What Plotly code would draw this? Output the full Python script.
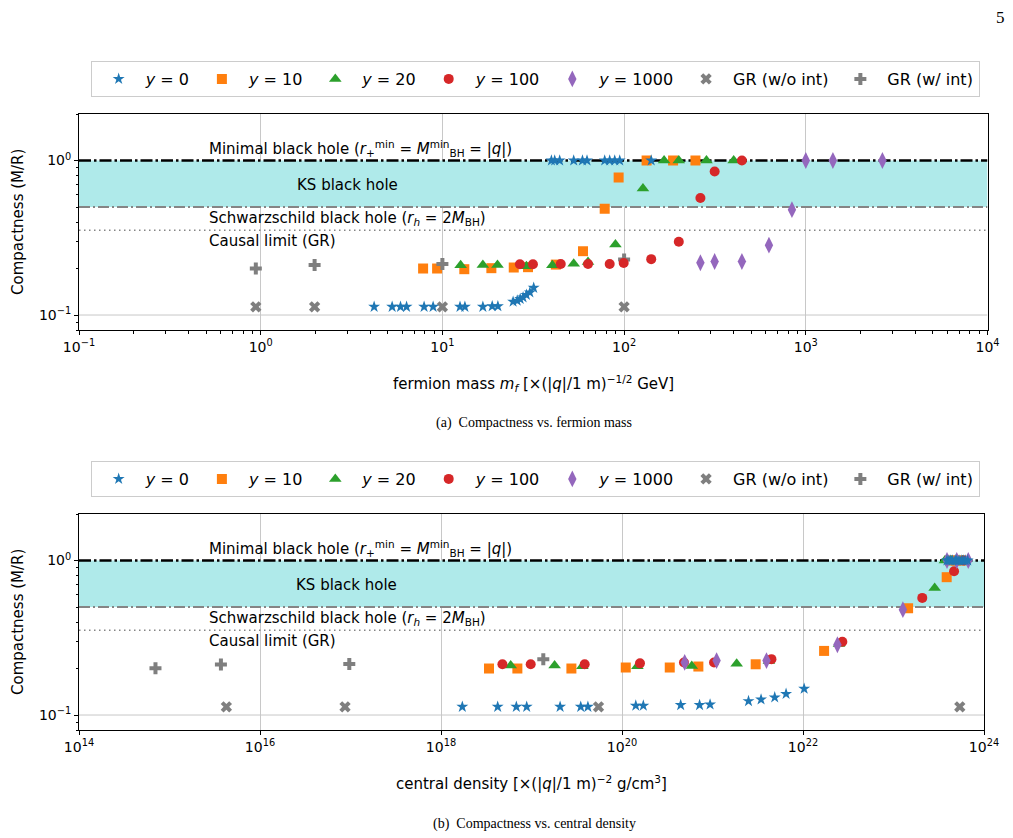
import math
import plotly.graph_objects as go

# ---------------- data: panel (a) compactness vs fermion mass ----------------
mass_y0 = [4.21, 5.29, 5.88, 6.35, 7.93, 8.89, 12.5, 13.3, 16.7, 18.8, 20.2,
           24.5, 25.8, 26.8, 27.8, 29.0, 30.3, 31.8,
           39.8, 41.5, 44.2, 52.8, 59.0, 62.5, 78.2, 83.3, 88.8, 94.6, 141]
compm_y0 = [0.113, 0.113, 0.113, 0.113, 0.113, 0.113, 0.113, 0.113, 0.113, 0.114, 0.114,
            0.122, 0.124, 0.127, 0.130, 0.135, 0.140, 0.150,
            1.0, 1.0, 1.0, 1.0, 1.0, 1.0, 1.0, 1.0, 1.0, 1.0, 1.0]

mass_y10 = [7.83, 9.35, 13.2, 18.6, 24.7, 29.6, 42.1, 59.4, 78.2, 93.3, 133, 186, 247]
compm_y10 = [0.200, 0.200, 0.198, 0.201, 0.203, 0.204, 0.212, 0.259, 0.488, 0.777, 1.0, 1.0, 1.0]

mass_y20 = [12.6, 16.7, 20.1, 29.0, 40.3, 52.8, 63.3, 89.6, 127, 166, 200, 284, 401]
compm_y20 = [0.210, 0.211, 0.211, 0.207, 0.210, 0.215, 0.220, 0.286, 0.660, 1.0, 1.0, 1.0, 1.0]

mass_y100 = [26.7, 31.5, 44.8, 63.3, 83.3, 99.5, 141, 200, 263, 315, 445]
compm_y100 = [0.213, 0.213, 0.214, 0.214, 0.214, 0.217, 0.230, 0.298, 0.572, 0.850, 1.0]

mass_y1000 = [263, 315, 445, 627, 839, 1000, 1410, 2640]
compm_y1000 = [0.218, 0.222, 0.222, 0.283, 0.481, 1.0, 1.0, 1.0]

mass_gr_noint = [0.94, 1.98, 10.0, 100.0]
compm_gr_noint = [0.113, 0.113, 0.113, 0.113]

mass_gr_int = [0.94, 1.98, 10.0, 100.0]
compm_gr_int = [0.200, 0.211, 0.214, 0.229]

# ---------------- data: panel (b) compactness vs central density ----------------
dens_y0 = [1.72e18, 4.23e18, 6.8e18, 8.85e18, 2.07e19, 3.5e19, 4.2e19, 1.42e20, 1.72e20,
           4.45e20, 7.2e20, 9.4e20, 2.5e21, 3.44e21, 4.87e21, 6.5e21, 1.03e22,
           3.9e23, 4.1e23, 4.3e23, 4.5e23, 4.8e23, 5.0e23, 5.3e23, 5.6e23, 5.9e23, 6.2e23, 6.6e23]
compd_y0 = [0.113, 0.113, 0.113, 0.113, 0.113, 0.113, 0.113, 0.115, 0.115,
            0.116, 0.116, 0.117, 0.123, 0.126, 0.130, 0.137, 0.148,
            1.0, 1.0, 1.0, 1.0, 1.0, 1.0, 1.0, 1.0, 1.0, 1.0, 1.0]

dens_y10 = [3.39e18, 6.98e18, 2.76e19, 1.1e20, 3.37e20, 6.98e20, 3.0e21, 1.71e22,
            1.45e23, 3.87e23, 4.2e23, 4.9e23, 5.6e23]
compd_y10 = [0.200, 0.200, 0.200, 0.203, 0.203, 0.206, 0.213, 0.260, 0.491, 0.780, 1.0, 1.0, 1.0]

dens_y20 = [5.89e18, 1.8e19, 3.65e19, 1.48e20, 5.9e20, 1.85e21, 4.2e21, 2.5e22,
            2.85e23, 3.7e23, 4.3e23, 5.0e23, 5.8e23]
compd_y20 = [0.209, 0.209, 0.207, 0.207, 0.208, 0.215, 0.224, 0.288, 0.665, 1.0, 1.0, 1.0, 1.0]

dens_y100 = [4.77e18, 9.8e18, 3.87e19, 1.58e20, 4.84e20, 1.04e21, 4.48e21, 2.72e22,
             2.08e23, 4.67e23, 5.96e23]
compd_y100 = [0.213, 0.213, 0.213, 0.216, 0.219, 0.219, 0.230, 0.298, 0.573, 0.853, 1.0]

dens_y1000 = [4.93e20, 1.11e21, 3.95e21, 2.4e22, 1.27e23, 3.9e23, 5.0e23, 6.7e23]
compd_y1000 = [0.219, 0.225, 0.225, 0.285, 0.481, 1.0, 1.0, 1.0]

dens_gr_noint = [4.25e15, 8.7e16, 5.5e19, 5.4e23]
compd_gr_noint = [0.113, 0.113, 0.113, 0.113]

dens_gr_int = [7.0e14, 3.7e15, 9.7e16, 1.35e19]
compd_gr_int = [0.201, 0.212, 0.214, 0.230]

# reference levels
C_MINIMAL = 1.0
C_SCHW = 0.5
C_CAUSAL = 0.354
C_GRID = 0.1

# axis ranges and tick labels
mass_range = [0.1, 1e4]
dens_range = [1e14, 1e24]
comp_range = [0.08, 2.0]
mass_ticks = [0.1, 1, 10, 100, 1000, 10000]
mass_ticktext = ["10<sup>−1</sup>", "10<sup>0</sup>", "10<sup>1</sup>", "10<sup>2</sup>",
                 "10<sup>3</sup>", "10<sup>4</sup>"]
dens_ticks = [1e14, 1e16, 1e18, 1e20, 1e22, 1e24]
dens_ticktext = ["10<sup>14</sup>", "10<sup>16</sup>", "10<sup>18</sup>", "10<sup>20</sup>",
                 "10<sup>22</sup>", "10<sup>24</sup>"]
comp_ticks = [0.1, 1]
comp_ticktext = ["10<sup>−1</sup>", "10<sup>0</sup>"]

# ---------------- styling ----------------
W, H = 1013, 838
SANS = "DejaVu Sans"
SERIF = "Liberation Serif, Times New Roman, serif"

fig = go.Figure()

# reference band and lines first (below the markers)
for xa, ya, xr in (("x", "y", mass_range), ("x2", "y2", dens_range)):
    fig.add_trace(go.Scatter(x=[xr[0], xr[1], xr[1], xr[0]],
                             y=[C_SCHW, C_SCHW, C_MINIMAL, C_MINIMAL],
                             mode="lines", fill="toself", fillcolor="#afeaea",
                             line=dict(width=0), hoverinfo="skip", showlegend=False,
                             xaxis=xa, yaxis=ya))
    for lvl, col, wd, dash in ((C_GRID, "#c8c8c8", 1, "solid"),
                               (C_SCHW, "#858585", 2, "11px,3px,2px,3px"),
                               (C_CAUSAL, "#858585", 1.5, "1.5px,3.5px"),
                               (C_MINIMAL, "black", 2.5, "12px,3px,2.5px,3px")):
        fig.add_trace(go.Scatter(x=xr, y=[lvl, lvl], mode="lines",
                                 line=dict(color=col, width=wd, dash=dash),
                                 hoverinfo="skip", showlegend=False, xaxis=xa, yaxis=ya))

# empty helper traces so the minor-tick companion axes get drawn
for xa, ya in (("x3", "y"), ("x", "y3"), ("x2", "y4")):
    fig.add_trace(go.Scatter(x=[], y=[], mode="markers", showlegend=False,
                             hoverinfo="skip", xaxis=xa, yaxis=ya))

series = [
    ("y10", "<i>y</i> = 10", "#ff7f0e", "square", 10, 2),
    ("grno", "GR (w/o int)", "#7f7f7f", "x", 10, 6),
    ("grw", "GR (w/ int)", "#7f7f7f", "cross", 10, 7),
    ("y20", "<i>y</i> = 20", "#2ca02c", "triangle-up", 11, 3),
    ("y100", "<i>y</i> = 100", "#d62728", "circle", 10, 4),
    ("y1000", "<i>y</i> = 1000", "#9467bd", "diamond-tall", 12, 5),
    ("y0", "<i>y</i> = 0", "#1f77b4", "star", 9, 1),
]
top_data = {"y0": (mass_y0, compm_y0), "y10": (mass_y10, compm_y10),
            "y20": (mass_y20, compm_y20), "y100": (mass_y100, compm_y100),
            "y1000": (mass_y1000, compm_y1000), "grno": (mass_gr_noint, compm_gr_noint),
            "grw": (mass_gr_int, compm_gr_int)}
bot_data = {"y0": (dens_y0, compd_y0), "y10": (dens_y10, compd_y10),
            "y20": (dens_y20, compd_y20), "y100": (dens_y100, compd_y100),
            "y1000": (dens_y1000, compd_y1000), "grno": (dens_gr_noint, compd_gr_noint),
            "grw": (dens_gr_int, compd_gr_int)}

for key, label, color, symbol, size, rank in series:
    x, y = top_data[key]
    fig.add_trace(go.Scatter(x=x, y=y, mode="markers", name=label,
                             marker=dict(color=color, symbol=symbol, size=size, line=dict(width=0)),
                             xaxis="x", yaxis="y", legend="legend", legendrank=rank))
    x, y = bot_data[key]
    fig.add_trace(go.Scatter(x=x, y=y, mode="markers", name=label,
                             marker=dict(color=color, symbol=symbol, size=size, line=dict(width=0)),
                             xaxis="x2", yaxis="y2", legend="legend2", legendrank=rank))

def px2x(px):
    return px / W

def py2y(py):
    return 1 - py / H

top_dom_y = [py2y(330), py2y(114)]
bot_dom_y = [py2y(730), py2y(514)]
top_dom_x = [px2x(79), px2x(987.5)]
bot_dom_x = [px2x(79), px2x(984)]

lg = lambda r: [math.log10(r[0]), math.log10(r[1])]
mass_lr, dens_lr, comp_lr = lg(mass_range), lg(dens_range), lg(comp_range)

minor_y = []
for dec in (0.01, 0.1, 1.0):
    for k in range(2, 10):
        minor_y.append(k * dec)
minor_mass = []
for e in range(-1, 4):
    for k in range(2, 10):
        minor_mass.append(k * 10 ** e)

axis_common = dict(showline=True, linecolor="black", linewidth=1, mirror=True,
                   ticks="outside", ticklen=4, tickwidth=1, tickcolor="black",
                   gridcolor="#c8c8c8", gridwidth=1, zeroline=False, automargin=False,
                   tickfont=dict(family=SANS, size=14, color="black"))
minor_axis = dict(showline=False, ticks="outside", ticklen=2.5, tickwidth=0.8, tickcolor="black",
                  showgrid=False, zeroline=False, showticklabels=False, automargin=False,
                  tickmode="array")

fig.update_layout(
    xaxis=dict(type="log", range=mass_lr, domain=top_dom_x, anchor="y", showgrid=True,
               tickmode="array", tickvals=mass_ticks, ticktext=mass_ticktext, **axis_common),
    yaxis=dict(type="log", range=comp_lr, domain=top_dom_y, anchor="x", showgrid=False,
               tickmode="array", tickvals=comp_ticks, ticktext=comp_ticktext, **axis_common),
    xaxis2=dict(type="log", range=dens_lr, domain=bot_dom_x, anchor="y2", showgrid=True,
                tickmode="array", tickvals=dens_ticks, ticktext=dens_ticktext, **axis_common),
    yaxis2=dict(type="log", range=comp_lr, domain=bot_dom_y, anchor="x2", showgrid=False,
                tickmode="array", tickvals=comp_ticks, ticktext=comp_ticktext, **axis_common),
    # minor-tick companion axes
    xaxis3=dict(type="log", range=mass_lr, overlaying="x", anchor="y", side="bottom",
                tickvals=minor_mass, **minor_axis),
    yaxis3=dict(type="log", range=comp_lr, overlaying="y", anchor="x", side="left",
                tickvals=minor_y, **minor_axis),
    yaxis4=dict(type="log", range=comp_lr, overlaying="y2", anchor="x2", side="left",
                tickvals=minor_y, **minor_axis),
)

LEG_X = 0.5283
legend_common = dict(orientation="h", xanchor="center", yanchor="middle", x=LEG_X,
                     bgcolor="white", bordercolor="#cccccc", borderwidth=1,
                     font=dict(family=SANS, size=16, color="black"),
                     itemwidth=44, itemclick=False, traceorder="normal")
fig.update_layout(
    legend=dict(y=py2y(79), **legend_common),
    legend2=dict(y=py2y(479), **legend_common),
)

ann = []
for xr, yr, in (("x", "y"), ("x2", "y2")):
    xd, yd = xr + " domain", yr + " domain"
    ann.append(dict(xref=xd, yref=yd, x=(207 - 79) / 908, y=(330 - 148) / 216, xanchor="left",
                    yanchor="middle", showarrow=False,
                    text="Minimal black hole (<i>r</i><sub>+</sub><sup>min</sup> = <i>M</i><sup>min</sup><sub>BH</sub> = |<i>q</i>|)",
                    font=dict(family=SANS, size=15, color="black")))
    ann.append(dict(xref=xd, yref=yd, x=(347 - 79) / 908, y=(330 - 185) / 216, xanchor="center",
                    yanchor="middle", showarrow=False, text="KS black hole",
                    font=dict(family=SANS, size=15, color="black")))
    ann.append(dict(xref=xd, yref=yd, x=(207 - 79) / 908, y=(330 - 218) / 216, xanchor="left",
                    yanchor="middle", showarrow=False,
                    text="Schwarzschild black hole (<i>r<sub>h</sub></i> = 2<i>M</i><sub>BH</sub>)",
                    font=dict(family=SANS, size=15, color="black")))
    ann.append(dict(xref=xd, yref=yd, x=(207 - 79) / 908, y=(330 - 241) / 216, xanchor="left",
                    yanchor="middle", showarrow=False, text="Causal limit (GR)",
                    font=dict(family=SANS, size=15, color="black")))

ann.append(dict(xref="paper", yref="paper", x=px2x(18), y=py2y(222), textangle=-90,
                showarrow=False, text="Compactness (M/R)", xanchor="center", yanchor="middle",
                font=dict(family=SANS, size=15, color="black")))
ann.append(dict(xref="paper", yref="paper", x=px2x(18), y=py2y(622), textangle=-90,
                showarrow=False, text="Compactness (M/R)", xanchor="center", yanchor="middle",
                font=dict(family=SANS, size=15, color="black")))
ann.append(dict(xref="x domain", yref="paper", x=0.5, y=py2y(383), showarrow=False,
                xanchor="center", yanchor="middle",
                text="fermion mass <i>m<sub>f</sub></i> [×(|<i>q</i>|/1 m)<sup>−1/2</sup> GeV]",
                font=dict(family=SANS, size=15, color="black")))
ann.append(dict(xref="x2 domain", yref="paper", x=0.5, y=py2y(783), showarrow=False,
                xanchor="center", yanchor="middle",
                text="central density [×(|<i>q</i>|/1 m)<sup>−2</sup> g/cm<sup>3</sup>]",
                font=dict(family=SANS, size=15, color="black")))
ann.append(dict(xref="paper", yref="paper", x=px2x(534), y=py2y(423), showarrow=False,
                xanchor="center", yanchor="middle", text="(a)  Compactness vs. fermion mass",
                font=dict(family=SERIF, size=14, color="black")))
ann.append(dict(xref="paper", yref="paper", x=px2x(534), y=py2y(824), showarrow=False,
                xanchor="center", yanchor="middle", text="(b)  Compactness vs. central density",
                font=dict(family=SERIF, size=14, color="black")))
ann.append(dict(xref="paper", yref="paper", x=px2x(1000), y=py2y(17), showarrow=False,
                xanchor="center", yanchor="middle", text="5",
                font=dict(family=SERIF, size=17, color="black")))
fig.update_layout(annotations=ann)

fig.update_layout(width=W, height=H, autosize=False, margin=dict(l=0, r=0, t=0, b=0),
                  paper_bgcolor="white", plot_bgcolor="white",
                  font=dict(family=SANS, color="black"))

fig.write_html("out.html")
